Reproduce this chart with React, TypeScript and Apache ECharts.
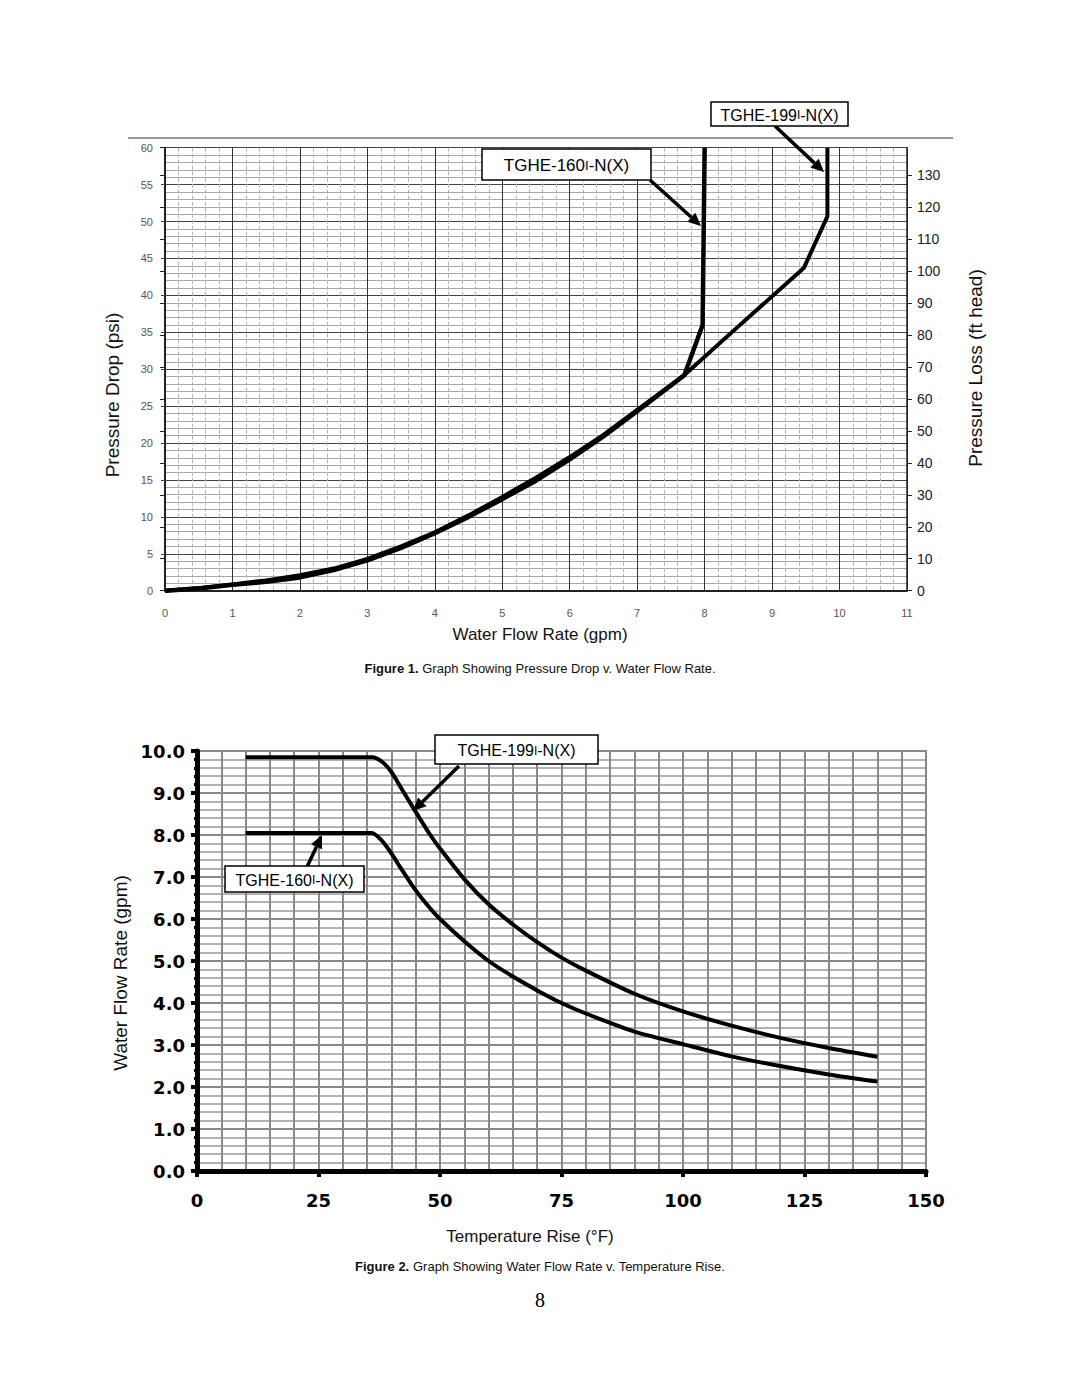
import React, { useEffect, useRef } from "react";
import * as echarts from "echarts";

// ---------- Figure 1: Pressure drop vs water flow rate ----------
const flow160 = [0, 0.5, 1, 1.5, 2, 2.5, 3, 3.5, 4, 4.5, 5, 5.5, 6, 6.5, 7, 7.7, 7.97, 8.0];
const psi160 = [0, 0.3, 0.8, 1.2, 1.8, 2.8, 4.1, 5.8, 7.8, 10, 12.4, 14.9, 17.8, 20.9, 24.3, 29.2, 36, 60];
const flow199 = [0, 0.5, 1, 1.5, 2, 2.5, 3, 3.5, 4, 4.5, 5, 5.5, 6, 6.5, 7, 7.7, 8.5, 9.47, 9.82, 9.82];
const psi199 = [0, 0.35, 0.85, 1.4, 2.1, 3.0, 4.3, 6.0, 7.9, 10.2, 12.7, 15.3, 18.1, 21.1, 24.5, 29.2, 35.8, 43.7, 50.7, 60];
const psiMax = 60;
const ftPerPsi = 2.31;

// ---------- Figure 2: Water flow rate vs temperature rise ----------
const tempRise = [10, 20, 30, 36, 38, 40, 42, 45, 48, 50, 55, 60, 65, 70, 75, 80, 90, 100, 110, 120, 130, 140];
const gpm160 = [8.05, 8.05, 8.05, 8.05, 7.87, 7.56, 7.2, 6.68, 6.25, 6.0, 5.47, 5.0, 4.63, 4.3, 4.0, 3.75, 3.32, 3.02, 2.73, 2.5, 2.3, 2.13];
const gpm199 = [9.85, 9.85, 9.85, 9.85, 9.75, 9.5, 9.12, 8.55, 8.0, 7.68, 6.95, 6.35, 5.87, 5.45, 5.08, 4.77, 4.22, 3.8, 3.46, 3.17, 2.93, 2.72];

const zip = (xs: number[], ys: number[]) => xs.map((x, i) => [x, ys[i]]);
const TOP = 100;

function arrow(x1: number, y1: number, x2: number, y2: number, w = 3.5) {
  const dx = x2 - x1, dy = y2 - y1;
  const len = Math.sqrt(dx * dx + dy * dy);
  const ux = dx / len, uy = dy / len;
  const hl = 13, hw = 6;
  const bx = x2 - ux * hl, by = y2 - uy * hl;
  return [
    { type: "line", z: TOP, shape: { x1, y1, x2: bx, y2: by }, style: { stroke: "#000", lineWidth: w } },
    {
      type: "polygon", z: TOP,
      shape: {
        points: [
          [x2, y2],
          [bx - uy * hw, by + ux * hw],
          [bx + uy * hw, by - ux * hw],
        ],
      },
      style: { fill: "#000" },
    },
  ];
}

function labelBox(x: number, y: number, w: number, h: number, num: string, fs: number) {
  return [
    { type: "rect", z: TOP, shape: { x, y, width: w, height: h }, style: { fill: "#fff", stroke: "#000", lineWidth: 1.5 } },
    {
      type: "text", z: TOP + 1,
      x: x + w / 2,
      y: y + h / 2 + 1,
      style: {
        text: `TGHE-${num}{s|I}-N(X)`,
        font: `${fs}px Arial, "Liberation Sans", sans-serif`,
        fill: "#000",
        align: "center",
        verticalAlign: "middle",
        rich: { s: { fontSize: Math.round(fs * 0.75), fontFamily: "Arial", fill: "#000" } },
      },
    },
  ];
}

export default function App() {
  const ref = useRef<HTMLDivElement>(null);
  useEffect(() => {
    if (!ref.current) return;
    const chart = echarts.init(ref.current, null, { renderer: "svg" });
    const sans = 'Arial, "Liberation Sans", sans-serif';
    const option: any = {
      animation: false,
      backgroundColor: "#fff",
      grid: [
        { left: 165, top: 147.7, width: 742, height: 443, show: false },
        { left: 197, top: 751, width: 729, height: 420, show: true, borderColor: "#888", borderWidth: 2, backgroundColor: "#fff" },
      ],
      xAxis: [
        {
          type: "value", gridIndex: 0, min: 0, max: 11, interval: 1,
          axisLine: { show: true, onZero: false, lineStyle: { color: "#222", width: 2 } },
          axisTick: { show: false },
          axisLabel: { color: "#555", fontSize: 11, fontFamily: sans, margin: 17 },
          splitLine: { show: true, lineStyle: { color: "#333", width: 1 } },
          minorTick: { show: false, splitNumber: 5 },
          minorSplitLine: { show: true, lineStyle: { color: "#b4b4b4", width: 1, type: "dashed" } },
        },
        {
          type: "value", gridIndex: 1, min: 0, max: 150, interval: 25,
          axisLine: { show: true, onZero: false, lineStyle: { color: "#000", width: 5 } },
          axisTick: { show: true, length: 6, lineStyle: { color: "#000", width: 4 } },
          minorTick: { show: true, splitNumber: 5, length: 3, lineStyle: { color: "#000", width: 3 } },
          axisLabel: { color: "#000", fontSize: 18, fontWeight: "bold", fontFamily: '"DejaVu Sans", sans-serif', margin: 20 },
          splitLine: { show: true, lineStyle: { color: "#888", width: 2 } },
          minorSplitLine: { show: true, lineStyle: { color: "#888", width: 2 } },
        },
      ],
      yAxis: [
        {
          type: "value", gridIndex: 0, min: 0, max: psiMax, interval: 5,
          axisLine: { show: true, onZero: false, lineStyle: { color: "#222", width: 2 } },
          axisTick: { show: true, length: 4, lineStyle: { color: "#444" } },
          axisLabel: { color: "#555", fontSize: 11, fontFamily: sans, margin: 12 },
          splitLine: { show: true, lineStyle: { color: "#444", width: 1.2 } },
          minorTick: { show: false, splitNumber: 5 },
          minorSplitLine: { show: true, lineStyle: { color: "#a8a8a8", width: 1 } },
        },
        {
          type: "value", gridIndex: 0, position: "right", min: 0, max: psiMax * ftPerPsi, interval: 10,
          axisLine: { show: true, onZero: false, lineStyle: { color: "#222", width: 1.5 } },
          axisTick: { show: true, length: 5, lineStyle: { color: "#222", width: 1 } },
          axisLabel: { color: "#222", fontSize: 14, fontFamily: sans, margin: 10, showMaxLabel: false },
          splitLine: { show: false },
        },
        {
          type: "value", gridIndex: 0, position: "right", min: 0, max: psiMax * ftPerPsi, interval: 10,
          axisLine: { show: false },
          axisTick: { show: true, inside: true, length: 5, lineStyle: { color: "#222", width: 1 } },
          axisLabel: { show: false },
          splitLine: { show: false },
        },
        {
          type: "value", gridIndex: 1, min: 0, max: 10, interval: 1,
          axisLine: { show: true, onZero: false, lineStyle: { color: "#000", width: 5 } },
          axisTick: { show: true, length: 6, lineStyle: { color: "#000", width: 4 } },
          minorTick: { show: true, splitNumber: 5, length: 3, lineStyle: { color: "#000", width: 3 } },
          axisLabel: {
            color: "#000", fontSize: 18, fontWeight: "bold", fontFamily: '"DejaVu Sans", sans-serif', margin: 12,
            formatter: (v: number) => v.toFixed(1),
          },
          splitLine: { show: true, lineStyle: { color: "#888", width: 2 } },
          minorSplitLine: { show: true, lineStyle: { color: "#999", width: 1.6 } },
        },
      ],
      series: [
        {
          name: "TGHE-160I-N(X) pressure", type: "line", xAxisIndex: 0, yAxisIndex: 0,
          data: zip(flow160, psi160), showSymbol: false, smooth: false,
          lineStyle: { color: "#000", width: 4.5 }, z: 5,
        },
        {
          name: "TGHE-199I-N(X) pressure", type: "line", xAxisIndex: 0, yAxisIndex: 0,
          data: zip(flow199, psi199), showSymbol: false, smooth: false,
          lineStyle: { color: "#000", width: 4 }, z: 5,
        },
        {
          name: "TGHE-160I-N(X) flow", type: "line", xAxisIndex: 1, yAxisIndex: 3,
          data: zip(tempRise, gpm160), showSymbol: false, smooth: 0.25,
          lineStyle: { color: "#000", width: 4 }, z: 5,
        },
        {
          name: "TGHE-199I-N(X) flow", type: "line", xAxisIndex: 1, yAxisIndex: 3,
          data: zip(tempRise, gpm199), showSymbol: false, smooth: 0.25,
          lineStyle: { color: "#000", width: 4 }, z: 5,
        },
      ],
      graphic: [
        { type: "line", z: TOP, shape: { x1: 128, y1: 138, x2: 953, y2: 138 }, style: { stroke: "#333", lineWidth: 1 } },
        // Figure 1 labels
        ...arrow(650, 180, 701, 226),
        ...labelBox(482, 149, 169, 31, "160", 17),
        ...arrow(775, 126, 824, 172),
        ...labelBox(711, 102, 137, 24, "199", 16),
        {
          type: "text", z: TOP, x: 112, y: 395, rotation: Math.PI / 2,
          style: { text: "Pressure Drop (psi)", font: `19px ${sans}`, fill: "#111", align: "center", verticalAlign: "middle" },
        },
        {
          type: "text", z: TOP, x: 975, y: 368, rotation: Math.PI / 2,
          style: { text: "Pressure Loss (ft head)", font: `19px ${sans}`, fill: "#111", align: "center", verticalAlign: "middle" },
        },
        {
          type: "text", z: TOP, x: 540, y: 634,
          style: { text: "Water Flow Rate (gpm)", font: `17px ${sans}`, fill: "#111", align: "center", verticalAlign: "middle" },
        },
        {
          type: "text", z: TOP, x: 540, y: 668,
          style: {
            text: "{b|Figure 1.} Graph Showing Pressure Drop v. Water Flow Rate.",
            font: `13px ${sans}`, fill: "#111", align: "center", verticalAlign: "middle",
            rich: { b: { fontWeight: "bold", fontSize: 13, fontFamily: "Arial", fill: "#111" } },
          },
        },
        // Figure 2 labels
        ...arrow(459, 766, 413, 811),
        ...labelBox(435, 735, 163, 29, "199", 16),
        ...arrow(307, 867, 322, 835),
        ...labelBox(225, 866, 139, 26, "160", 16),
        {
          type: "text", z: TOP, x: 120, y: 973, rotation: Math.PI / 2,
          style: { text: "Water Flow Rate (gpm)", font: `19px ${sans}`, fill: "#111", align: "center", verticalAlign: "middle" },
        },
        {
          type: "text", z: TOP, x: 530, y: 1236,
          style: { text: "Temperature Rise (°F)", font: `17px ${sans}`, fill: "#111", align: "center", verticalAlign: "middle" },
        },
        {
          type: "text", z: TOP, x: 540, y: 1266,
          style: {
            text: "{b|Figure 2.} Graph Showing Water Flow Rate v. Temperature Rise.",
            font: `13px ${sans}`, fill: "#111", align: "center", verticalAlign: "middle",
            rich: { b: { fontWeight: "bold", fontSize: 13, fontFamily: "Arial", fill: "#111" } },
          },
        },
        {
          type: "text", z: TOP, x: 540, y: 1300,
          style: { text: "8", font: `20px "Liberation Serif", "DejaVu Serif", serif`, fill: "#000", align: "center", verticalAlign: "middle" },
        },
      ],
    };
    chart.setOption(option);
    return () => chart.dispose();
  }, []);
  return (
    <div
      ref={ref}
      style={{ position: "absolute", left: 0, top: 0, width: 1080, height: 1397, background: "#fff" }}
    />
  );
}
